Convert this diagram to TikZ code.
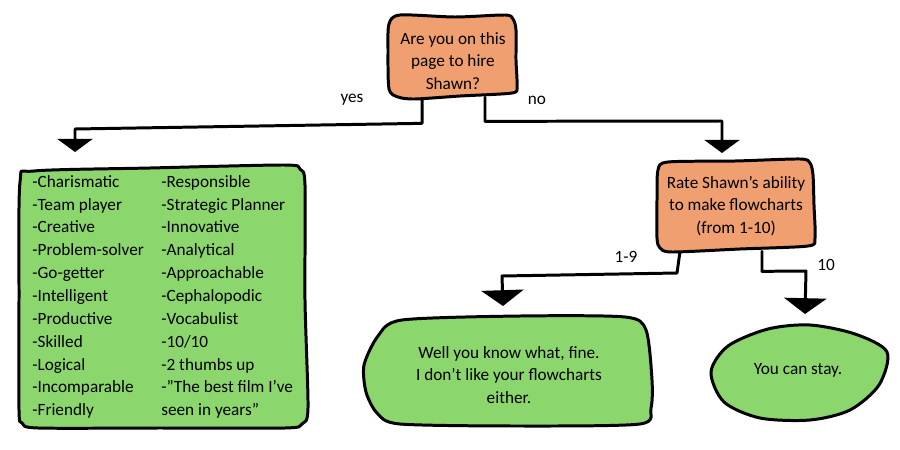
\documentclass[tikz,border=0pt]{standalone}
\usepackage{fontspec}
\setmainfont{Carlito}
\usetikzlibrary{arrows.meta}
\definecolor{boxorange}{RGB}{240,160,112}
\definecolor{boxgreen}{RGB}{140,214,110}
\begin{document}
\begin{tikzpicture}[x=0.02cm,y=-0.02cm,
  ink/.style={line width=1.7pt, line join=round, line cap=round},
  question/.style={ink, fill=boxorange},
  answer/.style={ink, fill=boxgreen},
  txt/.style={font=\fontsize{9.8}{13}\selectfont, align=center, inner sep=0pt},
  lbl/.style={font=\fontsize{9.8}{13}\selectfont, inner sep=0pt},
  conn/.style={ink, -{Triangle[width=20pt,length=7.5pt]}},
  connbig/.style={ink, -{Triangle[width=24pt,length=9pt]}},
]
\useasboundingbox (0,0) rectangle (900,450);

% text holders (named, so the connectors can start from them)
\node[txt, minimum width=2.52cm, minimum height=1.44cm] (q) at (453,61) {};
\node[txt, minimum width=3.14cm, minimum height=1.8cm] (rate) at (736,206) {};

% free ends of the connectors (arrow tips)
\coordinate (yestip) at (75,152);
\coordinate (notip) at (722,153);
\coordinate (lowtip) at (503,306);
\coordinate (staytip) at (805,314);

% connectors
\draw[conn] ([xshift=-0.62cm]q.south) -- ++(0,26) -- (75,129) -- (yestip);
\draw[conn] ([xshift=0.64cm]q.south) -- ++(0,24) -- (722,121) -- (notip);
\draw[connbig] ([xshift=-1.12cm]rate.south) -- (677,273) -- (502,276) -- (lowtip);
\draw[connbig] ([xshift=0.52cm]rate.south) -- ++(0,20) -- (806,271) -- (staytip);

% hand-drawn shapes
\draw[question] plot[smooth cycle, tension=0.45] coordinates {(400,15) (455,17) (505,15) (513,19) (516,30) (516,60) (517,86) (512,93) (460,96) (415,99) (398,97) (389,89) (388,50) (389,24)};
\draw[question] plot[smooth cycle, tension=0.45] coordinates {(668,162) (735,161) (800,159) (810,163) (813,175) (814,205) (815,238) (808,246) (740,249) (672,252) (660,248) (657,238) (657,200) (658,170)};
\draw[answer] plot[smooth cycle, tension=0.45] coordinates {(34,171) (150,168) (284,165) (300,169) (305,185) (305,300) (308,408) (302,424) (285,428) (160,428) (38,428) (22,423) (19,410) (19,300) (20,182)};
\draw[answer] plot[smooth cycle, tension=0.45] coordinates {(364,365) (378,336) (402,320) (520,316) (625,317) (646,330) (652,380) (651,408) (640,424) (520,426) (400,424) (377,413) (366,392)};
\draw[answer] plot[smooth cycle, tension=0.5] coordinates {(711,372) (728,346) (768,329) (810,325) (855,334) (887,352) (879,385) (850,410) (810,420) (760,418) (724,402)};

% texts
\node[txt] (qtext) at (q.center) {Are you on this\\page to hire\\Shawn?};
\node[txt] (ratetext) at (rate.center) {Rate Shawn’s ability\\to make flowcharts\\(from 1-10)};
\node[lbl, anchor=north west, align=left] (colA) at (32,175) {-Charismatic\\-Team player\\-Creative\\-Problem-solver\\-Go-getter\\-Intelligent\\-Productive\\-Skilled\\-Logical\\-Incomparable\\-Friendly};
\node[lbl, anchor=north west, align=left] (colB) at (161,175) {-Responsible\\-Strategic Planner\\-Innovative\\-Analytical\\-Approachable\\-Cephalopodic\\-Vocabulist\\-10/10\\-2 thumbs up\\-”The best film I’ve\\seen in years”};
\node[txt] (nope) at (509,375) {Well you know what, fine.\\I don’t like your flowcharts\\either.};
\node[txt] (stay) at (798,370) {You can stay.};

% branch labels
\node[lbl] (yes) at (352,100) {yes};
\node[lbl] (no) at (537,100) {no};
\node[lbl] (low) at (626,257) {1-9};
\node[lbl] (ten) at (826,265) {10};
\end{tikzpicture}
\end{document}
